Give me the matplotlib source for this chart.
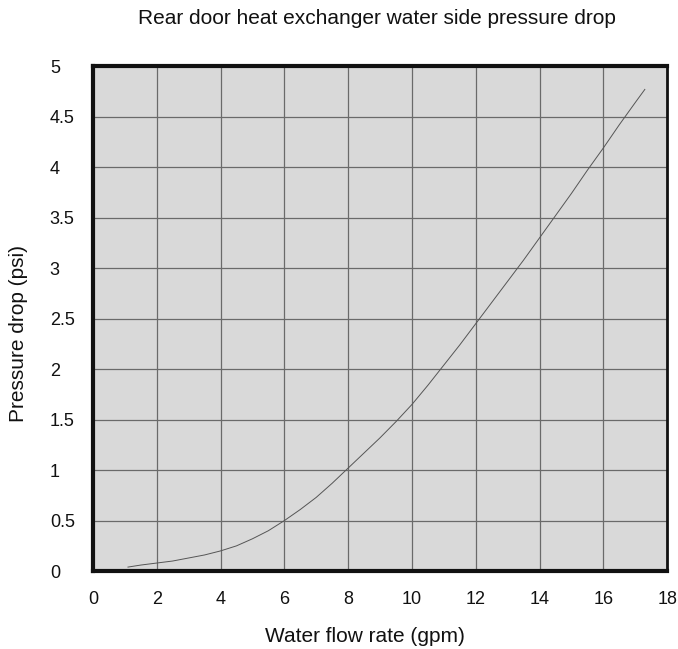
import matplotlib.pyplot as plt

plt.rcParams['font.family'] = ['Liberation Sans', 'DejaVu Sans']

# curve
flow = [1.1, 1.5, 2, 2.5, 3, 3.5, 4, 4.5, 5, 5.5, 6, 6.5, 7, 7.5, 8, 8.5, 9, 9.5,
        10, 10.5, 11, 11.5, 12, 12.5, 13, 13.5, 14, 14.5, 15, 15.5, 16, 16.5, 17, 17.3]
drop = [0.04, 0.06, 0.08, 0.1, 0.13, 0.16, 0.2, 0.25, 0.32, 0.4, 0.5, 0.61, 0.73,
        0.87, 1.02, 1.17, 1.32, 1.48, 1.65, 1.84, 2.04, 2.24, 2.45, 2.66, 2.87,
        3.08, 3.3, 3.52, 3.74, 3.97, 4.19, 4.42, 4.64, 4.77]

xticks = [0, 2, 4, 6, 8, 10, 12, 14, 16, 18]
yticks = [0, 0.5, 1, 1.5, 2, 2.5, 3, 3.5, 4, 4.5, 5]
ylabels = ['0', '0.5', '1', '1.5', '2', '2.5', '3', '3.5', '4', '4.5', '5']

fig = plt.figure(figsize=(6.78, 6.49), dpi=100)
ax = fig.add_axes([0.137, 0.120, 0.847, 0.778])
ax.set_facecolor('#d9d9d9')

ax.plot(flow, drop, color='#555555', lw=0.7)

ax.set_xlim(0, 18)
ax.set_ylim(0, 5)
ax.set_xticks(xticks)
ax.set_yticks(yticks)
ax.set_yticklabels(ylabels)
ax.tick_params(axis='both', length=0, labelsize=13, colors='#111111')
ax.tick_params(axis='x', pad=14)
for lab in ax.get_yticklabels():
    lab.set_horizontalalignment('left')
ax.yaxis.set_tick_params(pad=31)

ax.grid(True, color='#6a6a6a', lw=0.9)
ax.set_axisbelow(True)

for side in ['top', 'left', 'bottom']:
    ax.spines[side].set_linewidth(3)
    ax.spines[side].set_color('#111111')
ax.spines['right'].set_linewidth(2)
ax.spines['right'].set_color('#111111')

ax.set_xlabel('Water flow rate (gpm)', fontsize=15, color='#111111')
ax.xaxis.set_label_coords(0.474, -0.111)
ax.set_ylabel('Pressure drop (psi)', fontsize=15, color='#111111')
ax.yaxis.set_label_coords(-0.113, 0.47)
fig.text(0.556, 0.972, 'Rear door heat exchanger water side pressure drop',
         ha='center', va='center', fontsize=15, color='#111111')

fig.savefig('out.png', dpi=100)
